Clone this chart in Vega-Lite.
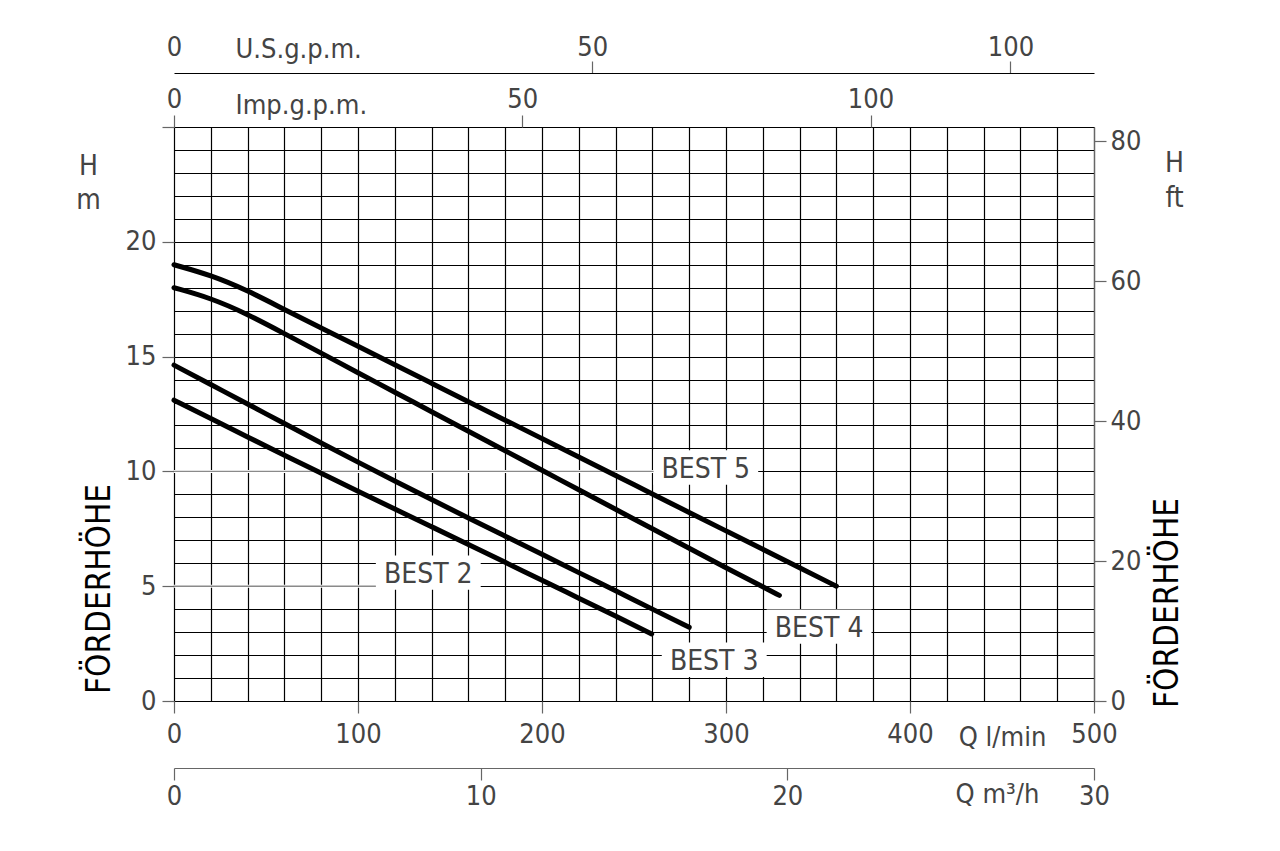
{
  "$schema": "https://vega.github.io/schema/vega-lite/v6.json",
  "width": 920,
  "height": 574,
  "autosize": {"type": "none"},
  "padding": {"left": 174, "top": 127, "right": 186, "bottom": 150},
  "background": "white",
  "config": {
    "view": {"stroke": null},
    "axis": {
      "labelFont": "Liberation Sans Narrow, DejaVu Sans Condensed, Liberation Sans",
      "labelFontSize": 27,
      "labelColor": "#444",
      "titleFont": "Liberation Sans Narrow, DejaVu Sans Condensed, Liberation Sans",
      "titleFontSize": 27,
      "titleColor": "#444",
      "titleFontWeight": "normal",
      "tickColor": "#666",
      "tickWidth": 1.2,
      "domainColor": "#666",
      "domainWidth": 1.2,
      "gridColor": "#000",
      "gridOpacity": 1,
      "gridWidth": 1.2,
      "labelFlush": false,
      "labelOverlap": false,
      "labelBound": false,
      "tickSize": 12
    }
  },
  "datasets": {
    "curves": [
      {"series": "BEST 5", "q": 0, "h": 19.0}, {"series": "BEST 5", "q": 20, "h": 18.55}, {"series": "BEST 5", "q": 40, "h": 17.88}, {"series": "BEST 5", "q": 60, "h": 17.05}, {"series": "BEST 5", "q": 80, "h": 16.25}, {"series": "BEST 5", "q": 100, "h": 15.45}, {"series": "BEST 5", "q": 120, "h": 14.64}, {"series": "BEST 5", "q": 140, "h": 13.84}, {"series": "BEST 5", "q": 160, "h": 13.04}, {"series": "BEST 5", "q": 180, "h": 12.23}, {"series": "BEST 5", "q": 200, "h": 11.43}, {"series": "BEST 5", "q": 220, "h": 10.63}, {"series": "BEST 5", "q": 240, "h": 9.82}, {"series": "BEST 5", "q": 260, "h": 9.02}, {"series": "BEST 5", "q": 280, "h": 8.21}, {"series": "BEST 5", "q": 300, "h": 7.41}, {"series": "BEST 5", "q": 320, "h": 6.61}, {"series": "BEST 5", "q": 340, "h": 5.8}, {"series": "BEST 5", "q": 360, "h": 5.0},
      {"series": "BEST 4", "q": 0, "h": 18.0}, {"series": "BEST 4", "q": 20, "h": 17.55}, {"series": "BEST 4", "q": 40, "h": 16.85}, {"series": "BEST 4", "q": 60, "h": 16.0}, {"series": "BEST 4", "q": 80, "h": 15.15}, {"series": "BEST 4", "q": 100, "h": 14.3}, {"series": "BEST 4", "q": 120, "h": 13.45}, {"series": "BEST 4", "q": 140, "h": 12.6}, {"series": "BEST 4", "q": 160, "h": 11.75}, {"series": "BEST 4", "q": 180, "h": 10.9}, {"series": "BEST 4", "q": 200, "h": 10.05}, {"series": "BEST 4", "q": 220, "h": 9.2}, {"series": "BEST 4", "q": 240, "h": 8.35}, {"series": "BEST 4", "q": 260, "h": 7.5}, {"series": "BEST 4", "q": 280, "h": 6.65}, {"series": "BEST 4", "q": 300, "h": 5.8}, {"series": "BEST 4", "q": 320, "h": 4.98}, {"series": "BEST 4", "q": 329, "h": 4.6},
      {"series": "BEST 3", "q": 0, "h": 14.63}, {"series": "BEST 3", "q": 20, "h": 13.78}, {"series": "BEST 3", "q": 40, "h": 12.94}, {"series": "BEST 3", "q": 60, "h": 12.08}, {"series": "BEST 3", "q": 80, "h": 11.24}, {"series": "BEST 3", "q": 100, "h": 10.4}, {"series": "BEST 3", "q": 120, "h": 9.58}, {"series": "BEST 3", "q": 140, "h": 8.77}, {"series": "BEST 3", "q": 160, "h": 7.97}, {"series": "BEST 3", "q": 180, "h": 7.18}, {"series": "BEST 3", "q": 200, "h": 6.39}, {"series": "BEST 3", "q": 220, "h": 5.59}, {"series": "BEST 3", "q": 240, "h": 4.8}, {"series": "BEST 3", "q": 260, "h": 4.0}, {"series": "BEST 3", "q": 280, "h": 3.21},
      {"series": "BEST 2", "q": 0, "h": 13.1}, {"series": "BEST 2", "q": 20, "h": 12.3}, {"series": "BEST 2", "q": 40, "h": 11.5}, {"series": "BEST 2", "q": 60, "h": 10.7}, {"series": "BEST 2", "q": 80, "h": 9.92}, {"series": "BEST 2", "q": 100, "h": 9.14}, {"series": "BEST 2", "q": 120, "h": 8.36}, {"series": "BEST 2", "q": 140, "h": 7.59}, {"series": "BEST 2", "q": 160, "h": 6.82}, {"series": "BEST 2", "q": 180, "h": 6.04}, {"series": "BEST 2", "q": 200, "h": 5.26}, {"series": "BEST 2", "q": 220, "h": 4.48}, {"series": "BEST 2", "q": 240, "h": 3.7}, {"series": "BEST 2", "q": 259.6, "h": 2.92}
    ],
    "labels": [
      {"name": "BEST 5", "q": 289, "h": 9.72},
      {"name": "BEST 4", "q": 350.6, "h": 2.79},
      {"name": "BEST 3", "q": 293.6, "h": 1.35},
      {"name": "BEST 2", "q": 138.2, "h": 5.14}
    ],
    "leaders": [
      {"name": "BEST 5", "q0": 0, "q1": 260.5, "h": 10},
      {"name": "BEST 2", "q0": 0, "q1": 109.7, "h": 5}
    ]
  },
  "layer": [
    {
      "data": {"name": "labels"},
      "transform": [
        {"calculate": "datum.q - 28.5", "as": "q0"},
        {"calculate": "datum.q + 28.5", "as": "q1"},
        {"calculate": "datum.h - 0.3", "as": "h0"},
        {"calculate": "datum.h + 1.2", "as": "h1"}
      ],
      "mark": {"type": "rect", "fill": "white"},
      "encoding": {
        "x": {"field": "q0", "type": "quantitative", "scale": {"domain": [0, 500], "nice": false, "zero": false}, "axis": null},
        "x2": {"field": "q1"},
        "y": {"field": "h0", "type": "quantitative", "scale": {"domain": [0, 25], "nice": false, "zero": false}, "axis": null},
        "y2": {"field": "h1"}
      }
    },
    {
      "data": {"name": "leaders"},
      "mark": {"type": "rule", "color": "white", "strokeWidth": 3},
      "encoding": {
        "x": {"field": "q0", "type": "quantitative", "scale": {"domain": [0, 500], "nice": false, "zero": false}, "axis": null},
        "x2": {"field": "q1"},
        "y": {"field": "h", "type": "quantitative", "scale": {"domain": [0, 25], "nice": false, "zero": false}, "axis": null}
      }
    },
    {
      "data": {"name": "leaders"},
      "mark": {"type": "rule", "color": "#8a8a8a", "strokeWidth": 1.4},
      "encoding": {
        "x": {"field": "q0", "type": "quantitative", "scale": {"domain": [0, 500], "nice": false, "zero": false}, "axis": null},
        "x2": {"field": "q1"},
        "y": {"field": "h", "type": "quantitative", "scale": {"domain": [0, 25], "nice": false, "zero": false}, "axis": null}
      }
    },
    {
      "data": {"name": "curves"},
      "mark": {"type": "line", "color": "#000", "strokeWidth": 5, "interpolate": "basis", "strokeCap": "round"},
      "encoding": {
        "detail": {"field": "series", "type": "nominal"},
        "x": {
          "field": "q", "type": "quantitative",
          "scale": {"domain": [0, 500], "nice": false, "zero": false},
          "axis": {
            "orient": "bottom",
            "values": [0, 20, 40, 60, 80, 100, 120, 140, 160, 180, 200, 220, 240, 260, 280, 300, 320, 340, 360, 380, 400, 420, 440, 460, 480, 500],
            "grid": true,
            "domain": false,
            "tickSize": 12,
            "tickOpacity": {"condition": {"test": "datum.value % 100 === 0", "value": 1}, "value": 0},
            "labelExpr": "datum.value % 100 === 0 ? datum.label : ''",
            "labelPadding": 8,
            "title": "Q l/min",
            "titleX": 828,
            "titleY": 44,
            "titleAlign": "center",
            "titleBaseline": "alphabetic"
          }
        },
        "y": {
          "field": "h", "type": "quantitative",
          "scale": {"domain": [0, 25], "nice": false, "zero": false},
          "axis": {
            "orient": "left",
            "values": [0, 1, 2, 3, 4, 5, 6, 7, 8, 9, 10, 11, 12, 13, 14, 15, 16, 17, 18, 19, 20, 21, 22, 23, 24, 25],
            "grid": true,
            "domain": false,
            "tickSize": 12,
            "tickOpacity": {"condition": {"test": "datum.value % 5 === 0", "value": 1}, "value": 0},
            "labelExpr": "datum.value % 5 === 0 && datum.value < 25 ? datum.label : ''",
            "labelPadding": 6,
            "title": "FÖRDERHÖHE",
            "titleAngle": 270,
            "titleX": -75,
            "titleY": 461.5,
            "titleAlign": "center",
            "titleBaseline": "middle",
            "titleColor": "#000",
            "titleFontSize": 33
          }
        }
      }
    },
    {
      "data": {"name": "labels"},
      "mark": {"type": "text", "font": "Liberation Sans Narrow, DejaVu Sans Condensed, Liberation Sans", "fontSize": 28, "color": "#444", "align": "center", "baseline": "alphabetic"},
      "encoding": {
        "x": {"field": "q", "type": "quantitative", "scale": {"domain": [0, 500], "nice": false, "zero": false}, "axis": null},
        "y": {"field": "h", "type": "quantitative", "scale": {"domain": [0, 25], "nice": false, "zero": false}, "axis": null},
        "text": {"field": "name", "type": "nominal"}
      }
    },
    {
      "data": {"values": [{"gpm": 0, "ft": 0}]},
      "mark": {"type": "point", "opacity": 0},
      "encoding": {
        "x": {
          "field": "gpm", "type": "quantitative",
          "scale": {"domain": [0, 132.086], "nice": false, "zero": false},
          "axis": {
            "orient": "top", "values": [0, 50, 100], "grid": false, "domain": false,
            "tickSize": 12, "labelPadding": 2,
            "title": "Imp.g.p.m.", "titleX": 61, "titleY": -14, "titleAlign": "left", "titleBaseline": "alphabetic"
          }
        },
        "y": {
          "field": "ft", "type": "quantitative",
          "scale": {"domain": [0, 82.021], "nice": false, "zero": false},
          "axis": {
            "orient": "right", "values": [0, 20, 40, 60, 80], "grid": false, "domain": true,
            "tickSize": 12, "labelPadding": 4,
            "title": "FÖRDERHÖHE", "titleAngle": 270, "titleX": 73, "titleY": 475.5,
            "titleAlign": "center", "titleBaseline": "middle", "titleColor": "#000", "titleFontSize": 33
          }
        }
      }
    },
    {
      "data": {"values": [{"gpm": 0, "m": 0}]},
      "mark": {"type": "point", "opacity": 0},
      "encoding": {
        "x": {
          "field": "gpm", "type": "quantitative",
          "scale": {"domain": [0, 109.985], "nice": false, "zero": false},
          "axis": {
            "orient": "top", "offset": 54, "values": [0, 50, 100], "grid": false, "domain": true, "domainColor": "#000",
            "tickSize": 12, "tickOpacity": {"condition": {"test": "datum.value === 0", "value": 0}, "value": 1},
            "labelPadding": 0,
            "title": "U.S.g.p.m.", "titleX": 61, "titleY": -16, "titleAlign": "left", "titleBaseline": "alphabetic"
          }
        },
        "y": {
          "field": "m", "type": "quantitative",
          "scale": {"domain": [0, 25], "nice": false, "zero": false},
          "axis": {
            "orient": "left", "grid": false, "domain": false, "ticks": false, "labels": false,
            "title": ["H", "m"], "titleAngle": 0, "titleX": -86, "titleY": 25,
            "titleAlign": "center", "titleBaseline": "top", "titleFontSize": 28, "titleLineHeight": 34
          }
        }
      }
    },
    {
      "data": {"values": [{"m3h": 0, "ft": 0}]},
      "mark": {"type": "point", "opacity": 0},
      "encoding": {
        "x": {
          "field": "m3h", "type": "quantitative",
          "scale": {"domain": [0, 30], "nice": false, "zero": false},
          "axis": {
            "orient": "bottom", "offset": 67, "values": [0, 10, 20, 30], "grid": false, "domain": true,
            "tickSize": 12, "labelPadding": 3,
            "title": "Q m³/h", "titleX": 823, "titleY": 34, "titleAlign": "center", "titleBaseline": "alphabetic"
          }
        },
        "y": {
          "field": "ft", "type": "quantitative",
          "scale": {"domain": [0, 25], "nice": false, "zero": false},
          "axis": {
            "orient": "right", "grid": false, "domain": false, "ticks": false, "labels": false,
            "title": ["H", "ft"], "titleAngle": 0, "titleX": 80, "titleY": 22,
            "titleAlign": "center", "titleBaseline": "top", "titleFontSize": 28, "titleLineHeight": 35
          }
        }
      }
    }
  ],
  "resolve": {
    "scale": {"x": "independent", "y": "independent"},
    "axis": {"x": "independent", "y": "independent"}
  }
}
